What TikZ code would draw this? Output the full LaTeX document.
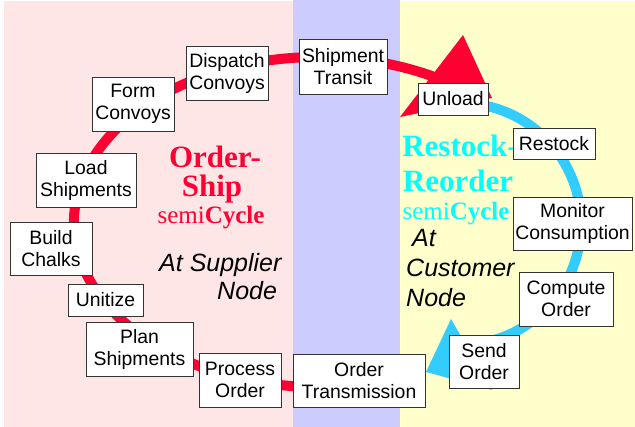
\documentclass[tikz,border=0pt]{standalone}
\usepackage{fontspec}
\setmainfont{Liberation Sans}
\newfontfamily\timesfont{Liberation Serif}

\definecolor{supplierbg}{HTML}{FFE6E6}
\definecolor{transitbg}{HTML}{CCCCFF}
\definecolor{customerbg}{HTML}{FFFFCC}
\definecolor{shipred}{HTML}{FF0033}
\definecolor{stockblue}{HTML}{33CCFF}
\definecolor{stockcyan}{HTML}{00FFFF}
\definecolor{boxedge}{HTML}{333333}

\begin{document}
\begin{tikzpicture}[x=1pt,y=1pt,
  stepbox/.style={draw=boxedge,fill=white,line width=0.9pt,inner sep=0pt,
    align=center,font=\fontsize{19.4}{22}\selectfont},
  cycletitle/.style={inner sep=0pt,anchor=base,
    font=\timesfont\bfseries\fontsize{31}{31}\selectfont},
  cyclesub/.style={inner sep=0pt,anchor=base,
    font=\timesfont\fontsize{25}{25}\selectfont},
  sitelabel/.style={inner sep=0pt,anchor=base west,
    font=\itshape\fontsize{25}{25}\selectfont},
  shipline/.style={draw=shipred,line width=10pt},
  stockline/.style={draw=stockblue,line width=10pt}
]
\useasboundingbox (0,0) rectangle (635,427);
\fill[white] (0,0) rectangle (635,427);

% three zones: supplier, transit, customer
\fill[supplierbg] (4,0) rectangle (293,426);
\fill[transitbg] (293,0) rectangle (400,427);
\fill[customerbg] (400,0) rectangle (635,426);

% cycle titles
\node[cycletitle,text=shipred] (osA) at (215,259) {Order-};
\node[cycletitle,text=shipred] (osB) at (212,230) {Ship};
\node[cyclesub,text=shipred] (osC) at (211,203) {semi\textbf{Cycle}};

\node[cycletitle,text=stockcyan] (rrA) at (460,270) {Restock-};
\node[cycletitle,text=stockcyan] (rrB) at (458,235) {Reorder};
\node[cyclesub,text=stockcyan] (rrC) at (456,207) {semi\textbf{Cycle}};

% site labels
\node[sitelabel] (supA) at (159,155) {At Supplier};
\node[sitelabel] (supB) at (217,127) {Node};
\node[sitelabel] (cusA) at (412,180) {At};
\node[sitelabel] (cusB) at (406,150) {Customer};
\node[sitelabel] (cusC) at (406,120) {Node};

% order-ship arc with its head
\coordinate (shipstart) at (423.4,56.2);
\draw[shipline] (shipstart) arc[start angle=-64.4, end angle=-305,
  x radius=244, y radius=165];
\fill[shipred] (463,392) -- (400,310) -- (492,329) -- cycle;

% restock-reorder arc with its head
\coordinate (stockstart) at (481,322.2);
\draw[stockline] (stockstart) arc[start angle=80, end angle=-82, radius=121];
\fill[stockblue] (426,55) -- (451,108) -- (492,37) -- cycle;

% steps of the order-ship semicycle
\node[stepbox,minimum width=132,minimum height=53] (ot) at (359,46.5) {Order\\Transmission};
\node[stepbox,minimum width=82,minimum height=54] (po) at (240,47) {Process\\Order};
\node[stepbox,minimum width=107,minimum height=54] (ps) at (139.5,78) {Plan\\Shipments};
\node[stepbox,minimum width=75,minimum height=32] (un) at (105.5,127) {Unitize};
\node[stepbox,minimum width=82,minimum height=53] (bc) at (51,178.5) {Build\\Chalks};
\node[stepbox,minimum width=100,minimum height=54] (ls) at (86,247) {Load\\Shipments};
\node[stepbox,minimum width=82,minimum height=54] (fc) at (133,323) {Form\\Convoys};
\node[stepbox,minimum width=82,minimum height=54] (dc) at (227,354) {Dispatch\\Convoys};
\node[stepbox,minimum width=88,minimum height=55] (st) at (343,360.5) {Shipment\\Transit};

% steps of the restock-reorder semicycle
\node[stepbox,minimum width=70,minimum height=32] (ul) at (453,328) {Unload};
\node[stepbox,minimum width=82,minimum height=31] (rs) at (554,283.5) {Restock};
\node[stepbox,minimum width=119,minimum height=53] (mc) at (572.5,203.5) {Monitor\\Consumption};
\node[stepbox,minimum width=94,minimum height=54] (co) at (566,128) {Compute\\Order};
\node[stepbox,minimum width=70,minimum height=53] (so) at (484,65.5) {Send\\Order};
\end{tikzpicture}
\end{document}
